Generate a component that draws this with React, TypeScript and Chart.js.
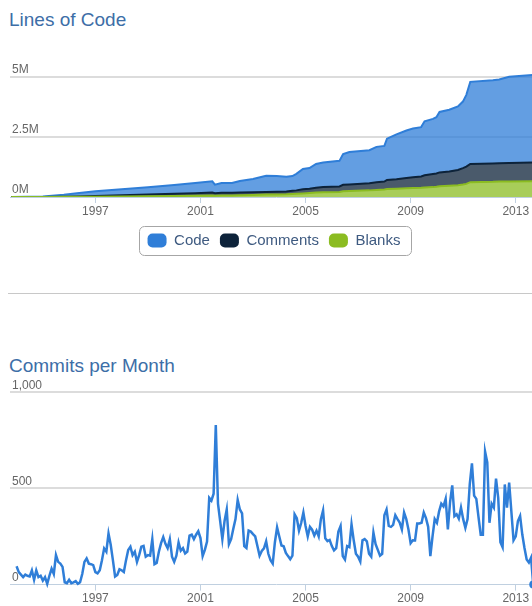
import React, { useEffect, useRef } from 'react';
import { Chart, registerables } from 'chart.js';

Chart.register(...registerables);

const FONT = "'Liberation Sans', Arial, Helvetica, sans-serif";

// ---- axis ticks ----
const yearTicks = [1997, 2001, 2005, 2009, 2013];
const locYTicks = [0, 2500000, 5000000];
const commitYTicks = [0, 500, 1000];

// ---- Lines of Code (values in thousands, per series, stacked) ----
const locYears = [
  1993.8, 1995.0, 1995.8, 1996.3, 1997.0, 1998.0, 1999.0, 2000.0, 2000.8, 2001.45,
  2001.55, 2001.8, 2002.2, 2002.5, 2003.0, 2003.5, 2003.9, 2004.27, 2004.5, 2004.65,
  2004.9, 2005.15, 2005.4, 2005.67, 2006.29, 2006.43, 2006.67, 2007.43, 2007.7, 2008.0,
  2008.1, 2008.46, 2008.84, 2009.09, 2009.4, 2009.53, 2009.85, 2009.98, 2010.1, 2010.47,
  2010.8, 2010.99, 2011.12, 2011.27, 2012.13, 2012.37, 2012.75, 2013.63,
];
const codeK = [
  0, 20, 75, 135, 200, 250, 300, 370, 420, 465,
  350, 405, 400, 475, 545, 675, 655, 610, 610, 685,
  840, 855, 985, 1020, 1060, 1275, 1350, 1370, 1465, 1480,
  1710, 1860, 1970, 2020, 2050, 2240, 2285, 2335, 2510, 2560,
  2640, 2760, 2980, 3410, 3460, 3480, 3580, 3630,
];
const commentsK = [
  0, 3, 9, 15, 25, 45, 65, 85, 105, 125,
  105, 115, 115, 115, 115, 105, 110, 120, 135, 140,
  170, 180, 200, 215, 235, 270, 275, 295, 320, 330,
  380, 395, 430, 445, 465, 505, 545, 550, 575, 595,
  630, 680, 715, 755, 760, 760, 762, 775,
];
const blanksK = [
  0, 2, 6, 10, 15, 25, 35, 45, 55, 60,
  55, 60, 65, 75, 85, 100, 105, 110, 125, 135,
  150, 165, 185, 195, 205, 235, 245, 275, 295, 310,
  330, 345, 360, 375, 385, 395, 410, 425, 445, 465,
  490, 520, 545, 615, 630, 640, 648, 655,
];

// ---- Commits per Month (monthly from Jan 1994) ----
const commitsStartYear = 1994;
const commits = [
  95, 65, 52, 39, 52, 46, 42, 74, 25, 74, 39, 46, // 1994
  21, 39, 4, 46, 83, 55, 153, 118, 109, 92, 12, 7, // 1995
  25, 7, 12, 18, 4, 12, 55, 118, 136, 109, 106, 101, // 1996
  65, 58, 74, 127, 188, 171, 265, 207, 127, 42, 50, 80, // 1997
  74, 65, 127, 180, 197, 153, 171, 118, 153, 197, 201, 145, // 1998
  153, 150, 236, 106, 112, 171, 215, 247, 212, 189, 236, 145, // 1999
  118, 150, 219, 176, 189, 162, 171, 254, 259, 236, 259, 277, // 2000
  242, 148, 180, 224, 450, 436, 472, 829, 420, 330, 236, 330, // 2001
  390, 210, 236, 290, 340, 440, 390, 370, 200, 190, 280, 275, // 2002
  262, 250, 200, 150, 175, 188, 225, 160, 127, 109, 220, 297, // 2003
  250, 203, 199, 165, 148, 132, 150, 365, 345, 280, 320, 374, // 2004
  304, 250, 300, 285, 255, 280, 250, 340, 385, 240, 226, 232, // 2005
  200, 178, 189, 275, 304, 148, 130, 200, 195, 313, 230, 160, // 2006
  145, 120, 230, 236, 225, 160, 145, 270, 210, 180, 150, 160, // 2007
  360, 390, 305, 300, 310, 360, 340, 322, 286, 374, 340, 286, // 2008
  215, 230, 229, 317, 317, 321, 374, 345, 300, 148, 250, 340, // 2009
  321, 380, 420, 406, 445, 286, 427, 515, 355, 365, 342, 400, // 2010
  340, 295, 340, 520, 630, 462, 445, 350, 259, 259, 691, 635, // 2011
  321, 420, 400, 550, 450, 220, 194, 520, 400, 530, 380, 230, // 2012
  250, 330, 356, 260, 190, 130, 115, 140, 0, // 2013
];

// ---- styles ----
const BLUE = '#2f7ed8';
const NAVY = '#0d233a';
const GREEN = '#8bbc21';
const BLUE_FILL = 'rgba(47,126,216,0.75)';
const NAVY_FILL = 'rgba(13,35,58,0.75)';
const GREEN_FILL = 'rgba(139,188,33,0.75)';
const GRID = '#dcdcdc';
const AXIS = '#c0d0e0';
const LABEL = '#666666';
const TITLE = '#3d6ea7';
const LEGEND_TEXT = '#3e5a80';

const xScale = (extraHeight: number) => ({
  type: 'linear',
  min: 1993.75,
  max: 2014,
  afterBuildTicks: (axis: any) => {
    axis.ticks = yearTicks.map((v) => ({ value: v }));
  },
  afterFit: (axis: any) => {
    axis.height += extraHeight;
  },
  grid: { drawOnChartArea: false, drawTicks: true, tickLength: 6, color: AXIS, lineWidth: 1 },
  border: { display: true, color: AXIS, width: 1 },
  ticks: {
    autoSkip: false,
    maxRotation: 0,
    padding: 1,
    color: LABEL,
    font: { size: 12, family: FONT },
    callback: (v: any) => String(v),
  },
});

const yGrid = {
  drawTicks: false,
  lineWidth: 2,
  color: (c: any) => (c.tick && c.tick.value === 0 ? 'rgba(0,0,0,0)' : GRID),
};

const legendBorder = {
  id: 'legendBorder',
  afterDraw(chart: any) {
    const lg = chart.legend;
    if (!lg || !lg.legendHitBoxes || !lg.legendHitBoxes.length) return;
    const hb = lg.legendHitBoxes;
    const left = Math.min(...hb.map((h: any) => h.left)) - 9;
    const right = Math.max(...hb.map((h: any) => h.left + h.width)) + 10;
    const cy = hb[0].top + hb[0].height / 2;
    const ctx = chart.ctx;
    ctx.save();
    ctx.strokeStyle = '#a6a6a6';
    ctx.lineWidth = 1;
    ctx.beginPath();
    ctx.roundRect(Math.round(left) + 0.5, Math.round(cy - 14.5) + 0.5, Math.round(right - left), 29, 5);
    ctx.stroke();
    ctx.restore();
  },
};

const solid = [GREEN, NAVY, BLUE];

function locConfig(): any {
  const pts = (arr: number[]) => arr.map((v, i) => ({ x: locYears[i], y: v * 1000 }));
  return {
    type: 'line',
    data: {
      datasets: [
        { label: 'Blanks', data: pts(blanksK), borderColor: GREEN, backgroundColor: GREEN_FILL, fill: 'origin', borderWidth: 2, pointRadius: 0, tension: 0 },
        { label: 'Comments', data: pts(commentsK), borderColor: NAVY, backgroundColor: NAVY_FILL, fill: '-1', borderWidth: 2, pointRadius: 0, tension: 0 },
        { label: 'Code', data: pts(codeK), borderColor: BLUE, backgroundColor: BLUE_FILL, fill: '-1', borderWidth: 2, pointRadius: 0, tension: 0 },
      ],
    },
    options: {
      animation: false,
      responsive: false,
      events: [],
      layout: { padding: { left: 6, right: 10, top: 14.5, bottom: 0 } },
      scales: {
        x: xScale(3.6),
        y: {
          stacked: true,
          min: 0,
          max: 5250000,
          afterBuildTicks: (axis: any) => {
            axis.ticks = locYTicks.map((v) => ({ value: v }));
          },
          grid: yGrid,
          border: { display: false },
          ticks: {
            mirror: true,
            padding: 2,
            labelOffset: -7,
            color: LABEL,
            font: { size: 12, family: FONT },
            callback: (v: any) => v / 1000000 + 'M',
          },
        },
      },
      plugins: {
        tooltip: { enabled: false },
        legend: {
          display: true,
          position: 'bottom',
          reverse: true,
          labels: {
            boxWidth: 19,
            boxHeight: 14,
            padding: 10,
            color: LEGEND_TEXT,
            font: { size: 15, family: FONT },
            useBorderRadius: true,
            borderRadius: 5,
            generateLabels: (chart: any) =>
              (Chart.defaults.plugins.legend.labels.generateLabels as any)(chart).map((l: any) => ({
                ...l,
                fillStyle: solid[l.datasetIndex],
                strokeStyle: solid[l.datasetIndex],
                lineWidth: 0,
                borderRadius: 5,
              })),
          },
        },
      },
    },
    plugins: [legendBorder],
  };
}

function commitsConfig(): any {
  const last = commits.length - 1;
  return {
    type: 'line',
    data: {
      datasets: [
        {
          label: 'Commits',
          data: commits.map((v, i) => ({ x: commitsStartYear + i / 12, y: v })),
          borderColor: BLUE,
          backgroundColor: BLUE,
          borderWidth: 2.5,
          fill: false,
          tension: 0,
          pointRadius: (c: any) => (c.dataIndex === last ? 4 : 0),
          pointBackgroundColor: BLUE,
          pointBorderWidth: 0,
          clip: 6,
        },
      ],
    },
    options: {
      animation: false,
      responsive: false,
      events: [],
      layout: { padding: { left: 6, right: 10, top: 12, bottom: 0 } },
      scales: {
        x: xScale(0),
        y: {
          min: 0,
          max: 1000,
          afterBuildTicks: (axis: any) => {
            axis.ticks = commitYTicks.map((v) => ({ value: v }));
          },
          grid: yGrid,
          border: { display: false },
          ticks: {
            mirror: true,
            padding: 2,
            labelOffset: -6.5,
            color: LABEL,
            font: { size: 12, family: FONT },
            callback: (v: any) => Number(v).toLocaleString('en-US'),
          },
        },
      },
      plugins: {
        tooltip: { enabled: false },
        legend: { display: false },
      },
    },
  };
}

export default function App() {
  const c1 = useRef<HTMLCanvasElement>(null);
  const c2 = useRef<HTMLCanvasElement>(null);

  useEffect(() => {
    Chart.defaults.font.family = FONT;
    const ch1 = new Chart(c1.current as HTMLCanvasElement, locConfig());
    const ch2 = new Chart(c2.current as HTMLCanvasElement, commitsConfig());
    return () => {
      ch1.destroy();
      ch2.destroy();
    };
  }, []);

  const titleStyle: React.CSSProperties = {
    position: 'absolute',
    left: 9,
    fontSize: 19,
    lineHeight: '19px',
    color: TITLE,
    whiteSpace: 'nowrap',
    fontFamily: FONT,
  };

  return (
    <div
      style={{
        position: 'fixed',
        left: 0,
        top: 0,
        width: 532,
        height: 606,
        overflow: 'hidden',
        background: '#ffffff',
        fontFamily: FONT,
      }}
    >
      <div style={{ ...titleStyle, top: 10 }}>Lines of Code</div>
      <canvas
        ref={c1}
        width={552}
        height={202}
        style={{ position: 'absolute', left: 0, top: 56, width: 552, height: 202 }}
      />
      <div style={{ position: 'absolute', left: 8, top: 293, width: 524, height: 1, background: '#c8c8c8' }} />
      <div style={{ ...titleStyle, top: 356 }}>Commits per Month</div>
      <canvas
        ref={c2}
        width={552}
        height={227}
        style={{ position: 'absolute', left: 0, top: 380, width: 552, height: 227 }}
      />
    </div>
  );
}
